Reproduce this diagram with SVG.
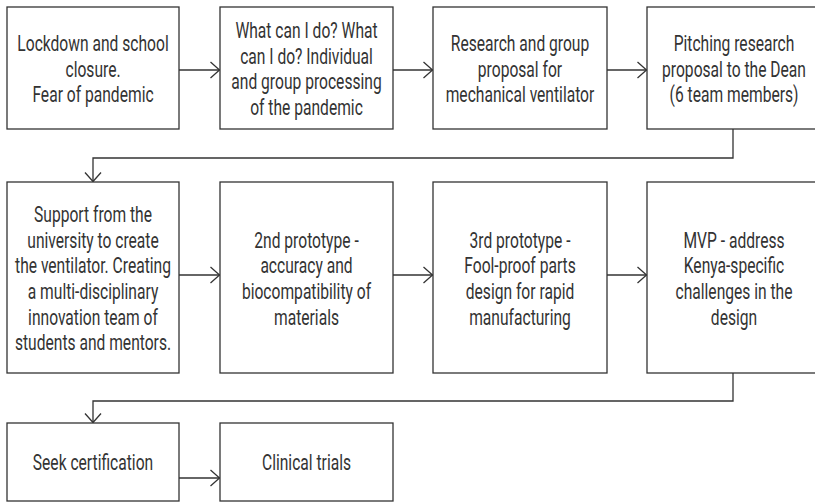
<svg xmlns="http://www.w3.org/2000/svg" width="815" height="502" viewBox="0 0 815 502">
<defs>
<style>
.box{fill:#fff;stroke:#333;stroke-width:1.3}
.t{font-family:Roboto,"Liberation Sans",sans-serif;font-size:22px;font-weight:400;fill:#333;text-anchor:middle}
.c{fill:none;stroke:#333;stroke-width:1.3}
</style>
<marker id="ah" markerUnits="userSpaceOnUse" markerWidth="20" markerHeight="20" viewBox="-12 -10 14 20" refX="0" refY="0" orient="auto" overflow="visible">
<path d="M-9,-8 L0,0 L-9,8" fill="none" stroke="#333" stroke-width="1.3"/>
</marker>
</defs>
<rect width="815" height="502" fill="#fff"/>
<g id="connectors">
<path class="c" d="M179,70 H219.5" marker-end="url(#ah)"/>
<path class="c" d="M393,70 H432.5" marker-end="url(#ah)"/>
<path class="c" d="M607,70 H646.5" marker-end="url(#ah)"/>
<path class="c" d="M733,129 V158 H93 V181.5" marker-end="url(#ah)"/>
<path class="c" d="M179,275 H219.5" marker-end="url(#ah)"/>
<path class="c" d="M393,275 H432.5" marker-end="url(#ah)"/>
<path class="c" d="M607,275 H646.5" marker-end="url(#ah)"/>
<path class="c" d="M733,373 V401 H93 V422.5" marker-end="url(#ah)"/>
<path class="c" d="M179,478 H219.5" marker-end="url(#ah)"/>
</g>
<g id="n1"><rect class="box" x="7" y="7" width="172" height="122"/>
<g transform="translate(93 0) scale(0.71 1)"><text class="t" x="0" y="51">Lockdown and school</text><text class="t" x="0" y="76.6">closure.</text><text class="t" x="0" y="102.2">Fear of pandemic</text></g></g>
<g id="n2"><rect class="box" x="220" y="7" width="173" height="122"/>
<g transform="translate(306.5 0) scale(0.71 1)"><text class="t" x="0" y="38.3">What can I do? What</text><text class="t" x="0" y="63.9">can I do? Individual</text><text class="t" x="0" y="89.5">and group processing</text><text class="t" x="0" y="115.1">of the pandemic</text></g></g>
<g id="n3"><rect class="box" x="433" y="7" width="174" height="122"/>
<g transform="translate(520 0) scale(0.71 1)"><text class="t" x="0" y="51">Research and group</text><text class="t" x="0" y="76.6">proposal for</text><text class="t" x="0" y="102.2">mechanical ventilator</text></g></g>
<g id="n4"><rect class="box" x="647" y="7" width="174" height="122"/>
<g transform="translate(734 0) scale(0.71 1)"><text class="t" x="0" y="51">Pitching research</text><text class="t" x="0" y="76.6">proposal to the Dean</text><text class="t" x="0" y="102.2">(6 team members)</text></g></g>
<g id="n5"><rect class="box" x="7" y="182" width="172" height="191"/>
<g transform="translate(93 0) scale(0.71 1)"><text class="t" x="0" y="222.2">Support from the</text><text class="t" x="0" y="247.8">university to create</text><text class="t" x="0" y="273.4">the ventilator. Creating</text><text class="t" x="0" y="299">a multi-disciplinary</text><text class="t" x="0" y="324.6">innovation team of</text><text class="t" x="0" y="350.2">students and mentors.</text></g></g>
<g id="n6"><rect class="box" x="220" y="182" width="173" height="191"/>
<g transform="translate(306.5 0) scale(0.71 1)"><text class="t" x="0" y="247.8">2nd prototype -</text><text class="t" x="0" y="273.4">accuracy and</text><text class="t" x="0" y="299">biocompatibility of</text><text class="t" x="0" y="324.6">materials</text></g></g>
<g id="n7"><rect class="box" x="433" y="182" width="174" height="191"/>
<g transform="translate(520 0) scale(0.71 1)"><text class="t" x="0" y="247.8">3rd prototype -</text><text class="t" x="0" y="273.4">Fool-proof parts</text><text class="t" x="0" y="299">design for rapid</text><text class="t" x="0" y="324.6">manufacturing</text></g></g>
<g id="n8"><rect class="box" x="647" y="182" width="174" height="191"/>
<g transform="translate(734 0) scale(0.71 1)"><text class="t" x="0" y="247.8">MVP - address</text><text class="t" x="0" y="273.4">Kenya-specific</text><text class="t" x="0" y="299">challenges in the</text><text class="t" x="0" y="324.6">design</text></g></g>
<g id="n9"><rect class="box" x="7" y="423" width="172" height="78"/>
<g transform="translate(93 0) scale(0.71 1)"><text class="t" x="0" y="470.5">Seek certification</text></g></g>
<g id="n10"><rect class="box" x="220" y="423" width="173" height="78"/>
<g transform="translate(306.5 0) scale(0.71 1)"><text class="t" x="0" y="470.5">Clinical trials</text></g></g>
</svg>
